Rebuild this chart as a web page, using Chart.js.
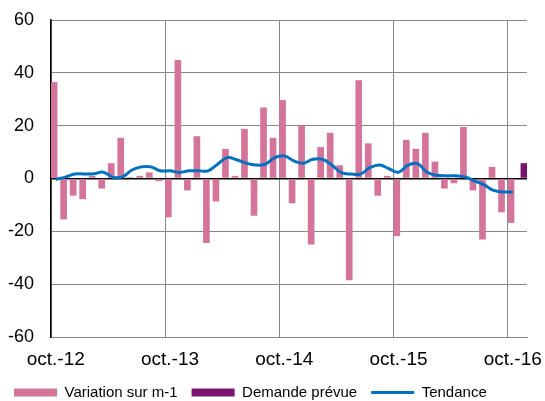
<!DOCTYPE html>
<html>
<head>
<meta charset="utf-8">
<script src="https://cdn.jsdelivr.net/npm/chart.js@4/dist/chart.umd.min.js"></script>
<style>
html,body{margin:0;padding:0;background:#fff;}
canvas{display:block;}
</style>
</head>
<body>
<canvas id="c" width="545" height="401"></canvas>
<script>
const categories = [
  "oct.-12","nov.-12","déc.-12","janv.-13","févr.-13","mars-13","avr.-13","mai-13","juin-13","juil.-13","août-13","sept.-13",
  "oct.-13","nov.-13","déc.-13","janv.-14","févr.-14","mars-14","avr.-14","mai-14","juin-14","juil.-14","août-14","sept.-14",
  "oct.-14","nov.-14","déc.-14","janv.-15","févr.-15","mars-15","avr.-15","mai-15","juin-15","juil.-15","août-15","sept.-15",
  "oct.-15","nov.-15","déc.-15","janv.-16","févr.-16","mars-16","avr.-16","mai-16","juin-16","juil.-16","août-16","sept.-16",
  "oct.-16","nov.-16"
];

const variation = [
  36.5, -15.5, -6.5, -7.8, 1, -3.8, 5.8, 15.4, 0.5, 1, 2.3, -1,
  -14.7, 44.9, -4.5, 16, -24.4, -8.7, 11.2, 1, 18.8, -14.1, 26.9, 15.4,
  29.7, -9.4, 20.1, -25, 11.9, 17.3, 5, -38.5, 37.2, 13.3, -6.5, 1,
  -21.8, 14.6, 11.2, 17.3, 6.4, -3.8, -1.8, 19.5, -4.5, -23.1, 4.4, -12.8,
  -16.8, null
];

const demandePrevue = [
  null, null, null, null, null, null, null, null, null, null, null, null,
  null, null, null, null, null, null, null, null, null, null, null, null,
  null, null, null, null, null, null, null, null, null, null, null, null,
  null, null, null, null, null, null, null, null, null, null, null, null,
  null, 5.8
];

const tendance = [
  -0.3, 0.5, 1.7, 1.7, 1.8, 2.4, 0.5, 0.6, 3.2, 4.4, 4.4, 2.9,
  2.9, 2.3, 2.9, 2.9, 2.9, 5.4, 7.9, 7.1, 5.8, 5.1, 5.4, 7.9,
  8.6, 6.7, 5.8, 7.3, 7.3, 5.1, 2.2, 1.7, 1.7, 4.1, 5.1, 3.7,
  2.4, 5.1, 5.6, 2.4, 1.2, 1.0, 1.0, 0.6, -0.9, -2.4, -4.5, -5.1,
  -5.1, null
];

const yTicks = [-60, -40, -20, 0, 20, 40, 60];
const seriesNames = ["Variation sur m-1", "Demande prévue", "Tendance"];

const FONT = "'Liberation Sans', Arial, sans-serif";

new Chart(document.getElementById('c'), {
  type: 'bar',
  data: {
    labels: categories,
    datasets: [
      {
        label: seriesNames[0],
        data: variation,
        backgroundColor: '#d4749a',
        borderWidth: 0,
        categoryPercentage: 0.7,
        barPercentage: 2.0,
        order: 1
      },
      {
        label: seriesNames[1],
        data: demandePrevue,
        backgroundColor: '#7b1370',
        borderWidth: 0,
        categoryPercentage: 0.7,
        barPercentage: 2.0,
        order: 1
      },
      {
        type: 'line',
        label: seriesNames[2],
        data: tendance,
        borderColor: '#0070c0',
        backgroundColor: '#0070c0',
        borderWidth: 3,
        pointRadius: 0,
        tension: 0.4,
        fill: false,
        order: 0
      }
    ]
  },
  options: {
    responsive: false,
    devicePixelRatio: 1,
    animation: false,
    layout: { padding: { top: 20, right: 18, left: 0, bottom: -9 } },
    scales: {
      x: {
        offset: true,
        grid: {
          offset: true,
          drawTicks: false,
          color: (ctx) => (ctx.index % 12 === 0 ? '#888888' : 'rgba(0,0,0,0)'),
          lineWidth: 1
        },
        border: { color: '#888888', width: 1 },
        ticks: {
          autoSkip: false,
          maxRotation: 0,
          minRotation: 0,
          padding: 11,
          color: '#000',
          font: { size: 19, family: FONT },
          callback: (v, i) => (i % 12 === 0 ? categories[i] : '')
        },
        afterFit: (s) => { s.height = 34; }
      },
      y: {
        min: yTicks[0],
        max: yTicks[yTicks.length - 1],
        afterBuildTicks: (s) => { s.ticks = yTicks.map(v => ({ value: v })); },
        grid: {
          drawTicks: false,
          color: (ctx) => (ctx.tick && ctx.tick.value === 0 ? '#000000' : '#888888'),
          lineWidth: (ctx) => (ctx.tick && ctx.tick.value === 0 ? 1.5 : 1)
        },
        border: { color: '#000000', width: 1.5 },
        ticks: {
          padding: 17,
          color: '#000',
          font: { size: 18, family: FONT }
        },
        afterFit: (s) => { s.width = 51; s.paddingTop = 0; s.paddingBottom = 0; }
      }
    },
    plugins: {
      tooltip: { enabled: false },
      legend: {
        position: 'bottom',
        align: 'start',
        labels: {
          usePointStyle: true,
          pointStyleWidth: 43,
          boxHeight: 8,
          padding: 14,
          color: '#000',
          font: { size: 15, family: FONT },
          generateLabels: (chart) => {
            const items = Chart.defaults.plugins.legend.labels.generateLabels(chart);
            items.forEach(it => {
              const ds = chart.data.datasets[it.datasetIndex];
              if (ds.type === 'line') {
                it.pointStyle = 'line';
                it.strokeStyle = ds.borderColor;
                it.fillStyle = ds.borderColor;
                it.lineWidth = 3;
              } else {
                it.pointStyle = 'rect';
                it.fillStyle = ds.backgroundColor;
                it.strokeStyle = ds.backgroundColor;
                it.lineWidth = 0;
              }
            });
            return items.sort((a, b) => a.datasetIndex - b.datasetIndex);
          }
        }
      }
    }
  }
});
</script>
</body>
</html>
